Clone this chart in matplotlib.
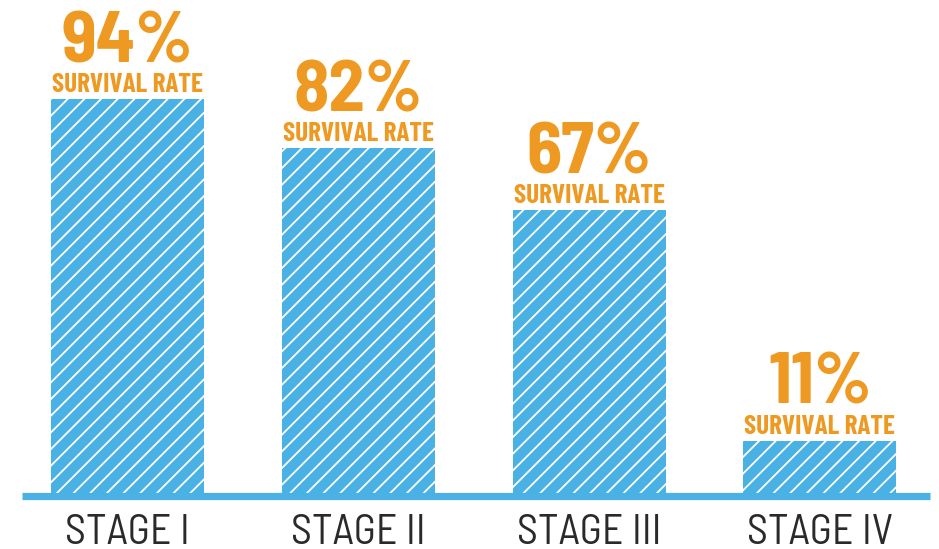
import matplotlib
matplotlib.use("Agg")
import matplotlib.pyplot as plt

# Daten
stages = ["STAGE I", "STAGE II", "STAGE III", "STAGE IV"]
survival = [94, 82, 67, 11]

blue = "#4AB1E4"
orange = "#EE9A22"
dark = "#2a2a2a"

plt.rcParams["hatch.linewidth"] = 1.3

fig = plt.figure(figsize=(9.39, 5.49), dpi=100)
ax = fig.add_axes([0, 0, 1, 1])

x = list(range(len(stages)))
pad = 2.5  # Balken laufen bis unter die Grundlinie
ax.bar(x, [v + pad for v in survival], bottom=-pad, width=0.663,
       color=blue, edgecolor="white", hatch="//", linewidth=0)

# dicke Grundlinie
ax.plot([-0.457, 3.477], [-2.55, -2.55], color=blue, lw=5.2,
        solid_capstyle="butt")

semi = ["Barlow Semi Condensed", "DejaVu Sans"]
cond = ["Barlow Condensed", "DejaVu Sans"]
for xi, v, s in zip(x, survival, stages):
    ax.annotate("SURVIVAL RATE", (xi, v), xytext=(0, 5), textcoords="offset points",
                ha="center", va="baseline", color=orange, fontsize=19.5,
                fontweight="bold", family=cond)
    ax.annotate(f"{v}%", (xi, v), xytext=(0, 26.5), textcoords="offset points",
                ha="center", va="baseline", color=orange, fontsize=52,
                fontweight="bold", family=semi)
    ax.annotate(s, (xi, 0), xytext=(0, -41.5), textcoords="offset points",
                ha="center", va="baseline", color=dark, fontsize=30,
                fontweight="normal", family=semi)

ax.set_xlim(-0.552, 3.516)
ax.set_ylim(-15.3, 118)
ax.axis("off")

fig.savefig("out.png", dpi=100)
